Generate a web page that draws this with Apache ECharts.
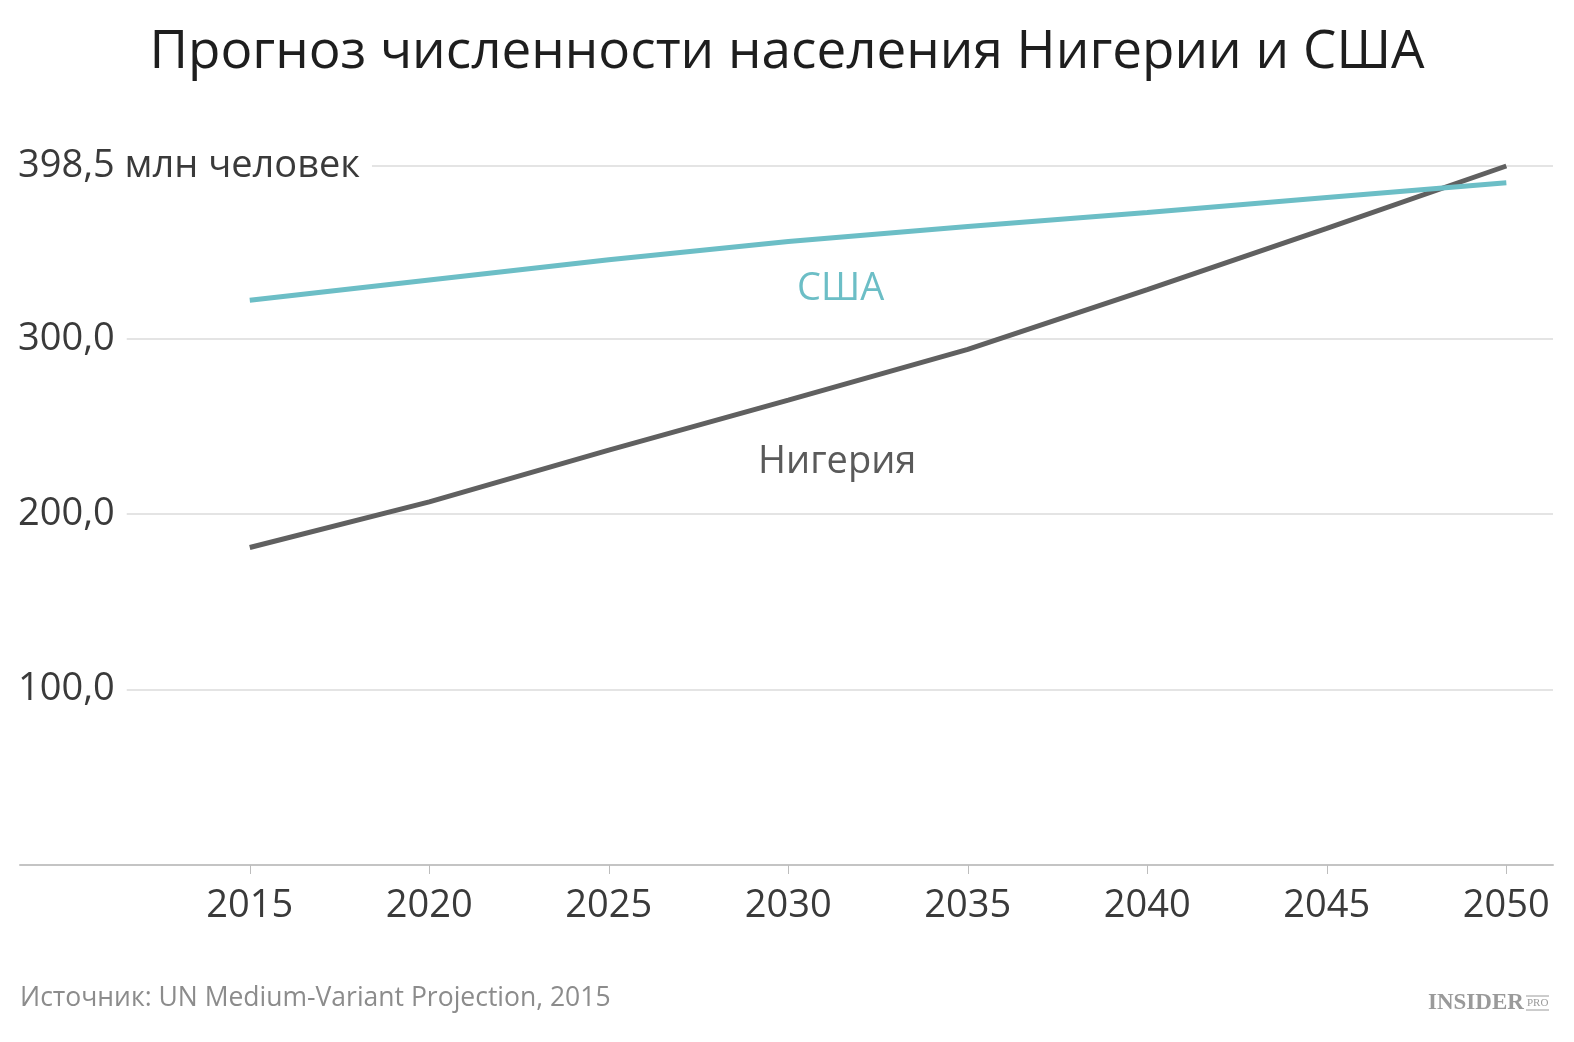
<!DOCTYPE html>
<html>
<head>
<meta charset="utf-8">
<script src="https://cdn.jsdelivr.net/npm/echarts@6/dist/echarts.min.js"></script>
<style>
  html, body { margin: 0; padding: 0; background: #fff; }
  #chart { width: 1574px; height: 1042px; }
</style>
</head>
<body>
<div id="chart"></div>
<script>
// years on the x axis
const years = [2015, 2020, 2025, 2030, 2035, 2040, 2045, 2050]
// population, mln people
const nigeria = [181, 207, 236.5, 265, 294, 328, 363, 398.5]
const usa = [322, 333.5, 345, 355.5, 364, 372, 380.5, 389]

const FONT = '"Open Sans", "Noto Sans", sans-serif'
const SERIF = '"Liberation Serif", "DejaVu Serif", serif'

function fmtY(v) {
  if (Math.abs(v - 398.5) < 0.01) return '398,5 млн человек'
  return v.toFixed(1).replace('.', ',')
}

const chart = echarts.init(document.getElementById('chart'))
chart.setOption({
  backgroundColor: '#fff',
  animation: false,
  title: {
    text: 'Прогноз численности населения Нигерии и США',
    left: 'center',
    top: 21,
    textStyle: { fontFamily: FONT, fontSize: 53, fontWeight: 'normal', color: '#1e1e1e' },
  },
  grid: { left: 20, right: 21, top: 166, bottom: 177, outerBoundsMode: 'none' },
  xAxis: {
    type: 'value',
    min: 2008.6,
    max: 2051.3,
    axisLine: { show: true, lineStyle: { color: '#c4c4c4', width: 2 } },
    axisTick: { show: true, customValues: years, length: 9, lineStyle: { color: '#bdbdbd', width: 1 } },
    axisLabel: {
      customValues: years,
      margin: 22,
      fontFamily: FONT,
      fontSize: 38,
      color: '#3a3a3a',
      formatter: v => String(v),
    },
    splitLine: { show: false },
  },
  yAxis: {
    type: 'value',
    min: 0,
    max: 398.5,
    interval: 100,
    axisLine: { show: false },
    axisTick: { show: false },
    axisLabel: {
      inside: true,
      showMinLabel: false,
      margin: -2,
      fontFamily: FONT,
      fontSize: 38,
      color: '#3a3a3a',
      backgroundColor: '#fff',
      padding: [2, 12, 2, 0],
      formatter: fmtY,
    },
    splitLine: { show: true, lineStyle: { color: '#e4e4e4', width: 2 } },
  },
  series: [
    {
      name: 'Нигерия',
      type: 'line',
      data: years.map((y, i) => [y, nigeria[i]]),
      showSymbol: false,
      clip: false,
      lineStyle: { color: '#606060', width: 5 },
      z: 3,
    },
    {
      name: 'США',
      type: 'line',
      data: years.map((y, i) => [y, usa[i]]),
      showSymbol: false,
      clip: false,
      lineStyle: { color: '#6cbec6', width: 5 },
      z: 4,
    },
  ],
  graphic: [
    {
      type: 'text', left: 797, top: 270,
      style: { text: 'США', fontFamily: FONT, fontSize: 38, fill: '#6cbec6' },
    },
    {
      type: 'text', left: 758, top: 443,
      style: { text: 'Нигерия', fontFamily: FONT, fontSize: 38, fill: '#5a5a5a' },
    },
    {
      type: 'text', left: 20, top: 985,
      style: { text: 'Источник: UN Medium-Variant Projection, 2015', fontFamily: FONT, fontSize: 26.5, fill: '#8c8c8c' },
    },
    {
      type: 'text', left: 1428, top: 992,
      style: { text: 'INSIDER', fontFamily: SERIF, fontWeight: 'bold', fontSize: 23, fill: '#9a9a9a' },
    },
    {
      type: 'text', left: 1527, top: 998,
      style: { text: 'PRO', fontFamily: SERIF, fontSize: 11, fill: '#9a9a9a' },
    },
    {
      type: 'line', shape: { x1: 1526, y1: 996, x2: 1549, y2: 996 },
      style: { stroke: '#9a9a9a', lineWidth: 1 },
    },
    {
      type: 'line', shape: { x1: 1526, y1: 1010, x2: 1549, y2: 1010 },
      style: { stroke: '#9a9a9a', lineWidth: 1 },
    },
  ],
})
</script>
</body>
</html>
